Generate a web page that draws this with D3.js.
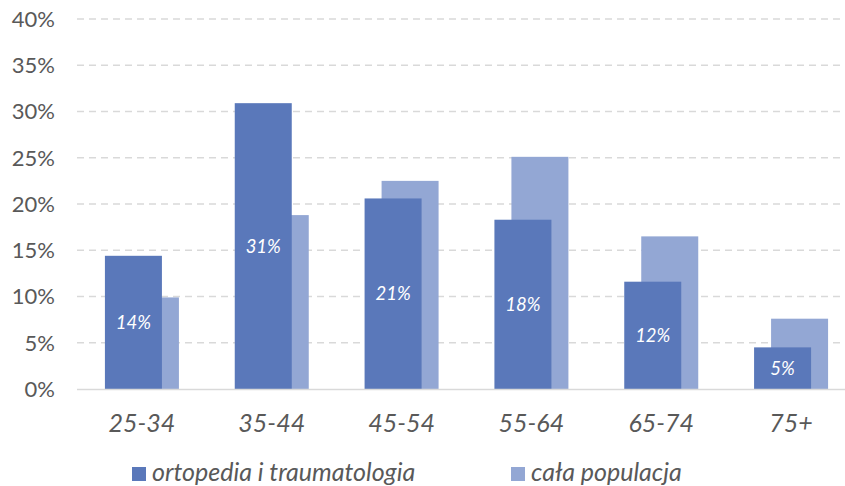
<!DOCTYPE html>
<html><head><meta charset="utf-8">
<script src="https://cdn.jsdelivr.net/npm/d3@7"></script>
<style>
html,body{margin:0;padding:0;background:#fff;}
svg{display:block;font-family:Lato, "Open Sans", sans-serif;}
</style></head>
<body>
<svg id="chart" width="845" height="486"></svg>
<script>
const categories = ["25-34","35-44","45-54","55-64","65-74","75+"];
const ortopedia = [14.4, 30.9, 20.6, 18.3, 11.6, 4.5];
const populacja = [9.9, 18.8, 22.5, 25.1, 16.5, 7.6];
const ortopediaLabels = ["14%","31%","21%","18%","12%","5%"];
const yTicks = [0,5,10,15,20,25,30,35,40];
const seriesNames = ["ortopedia i traumatologia","cała populacja"];

const dark = "#5a78ba", light = "#93a7d4", txt = "#595959";
const svg = d3.select("#chart");
const W = 845;
const x = d3.scaleBand().domain(categories).range([77, 856]).padding(0);
const y = d3.scaleLinear().domain([0,40]).range([389, 19]);

// gridlines
svg.append("g").selectAll("line").data(yTicks.filter(d=>d>0)).join("line")
  .attr("x1",77).attr("x2",W).attr("y1",d=>y(d)).attr("y2",d=>y(d))
  .attr("stroke","#d9d9d9").attr("stroke-width",1.3).attr("stroke-dasharray","7,5");

// y labels
svg.append("g").selectAll("text").data(yTicks).join("text")
  .attr("x",55).attr("y",d=>y(d)).attr("dy","0.36em").attr("text-anchor","end")
  .attr("fill",txt).attr("font-size",22).text(d=>d+"%");

const bw = 57, off = 37;
const cx = c => x(c) + x.bandwidth()/2;

// light bars (behind)
svg.append("g").selectAll("rect").data(categories).join("rect")
  .attr("x",c=>cx(c)-20).attr("width",bw)
  .attr("y",(c,i)=>y(populacja[i])).attr("height",(c,i)=>y(0)-y(populacja[i]))
  .attr("fill",light);

// dark bars
svg.append("g").selectAll("rect").data(categories).join("rect")
  .attr("x",c=>cx(c)-off).attr("width",bw)
  .attr("y",(c,i)=>y(ortopedia[i])).attr("height",(c,i)=>y(0)-y(ortopedia[i]))
  .attr("fill",dark);

// data labels
svg.append("g").selectAll("text").data(categories).join("text")
  .attr("x",c=>cx(c)-off+bw/2)
  .attr("y",(c,i)=>(y(ortopedia[i])+y(0))/2).attr("dy","0.36em")
  .attr("text-anchor","middle").attr("fill","#fff").attr("font-style","italic")
  .attr("font-size",18.5).text((c,i)=>ortopediaLabels[i]);

// baseline
svg.append("line").attr("x1",77).attr("x2",W).attr("y1",y(0)+0.5).attr("y2",y(0)+0.5)
  .attr("stroke","#d9d9d9").attr("stroke-width",1.3);

// x labels
svg.append("g").selectAll("text").data(categories).join("text")
  .attr("x",c=>cx(c)).attr("y",423).attr("dy","0.36em").attr("text-anchor","middle")
  .attr("fill",txt).attr("font-size",25).attr("font-style","italic").text(c=>c);

// legend
const legX = [132, 511];
const lg = svg.append("g").selectAll("g").data(seriesNames).join("g")
  .attr("transform",(d,i)=>`translate(${legX[i]},0)`);
lg.append("rect").attr("x",0).attr("y",467).attr("width",14).attr("height",14)
  .attr("fill",(d,i)=>i===0?dark:light);
lg.append("text").attr("x",20).attr("y",481)
  .attr("fill",txt).attr("font-size",25).attr("font-style","italic").text(d=>d);
</script>
</body></html>
